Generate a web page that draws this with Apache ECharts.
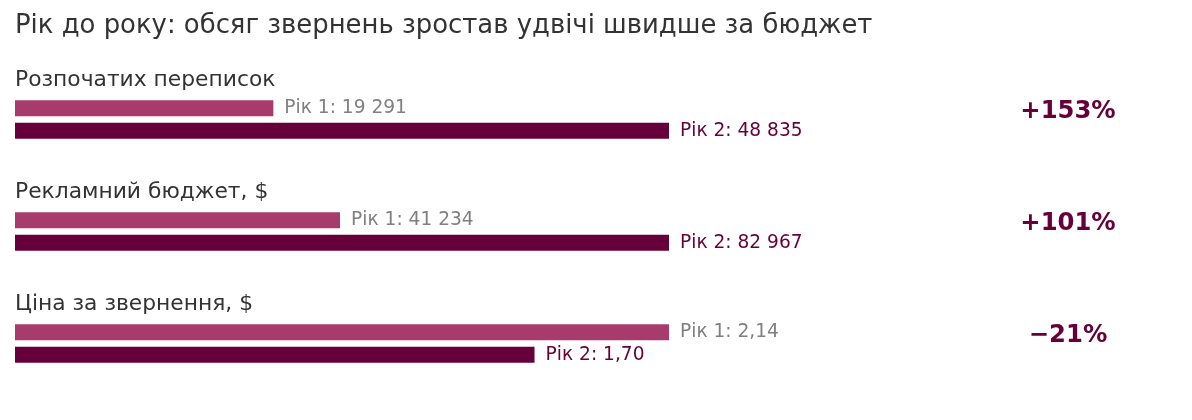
<!DOCTYPE html>
<html lang="uk">
<head>
  <meta charset="UTF-8">
  <title>Рік до року</title>
  <script src="https://cdn.jsdelivr.net/npm/echarts@6/dist/echarts.min.js"></script>
  <style>
    body{margin:0;background:#fff;}
  </style>
</head>
<body>
  <div id="main" style="width:1192px;height:420px;"></div>
  <script>
    // дані
    var metrics = ["Розпочатих переписок", "Рекламний бюджет, $", "Ціна за звернення, $"];
    var year1 = [19291, 41234, 2.14];
    var year2 = [48835, 82967, 1.70];
    var decimals = [0, 0, 2];
    var years = ["Рік 1", "Рік 2"];

    var FONT = "DejaVu Sans";
    var C1 = "#a63b6c", C2 = "#67003a";

    function fmt(v, d){
      var s = v.toFixed(d).split(".");
      var intPart = s[0].replace(/\B(?=(\d{3})+(?!\d))/g, " ");
      return d ? intPart + "," + s[1] : intPart;
    }

    var grids = [], xAxes = [], yAxes = [], series = [];
    var texts = [{
      type: "text", x: 15, y: 26,
      style: {text: "Рік до року: обсяг звернень зростав удвічі швидше за бюджет",
        font: "normal 25.9px '" + FONT + "'", fill: "#333", verticalAlign: "middle"}
    }];

    for (var i = 0; i < metrics.length; i++) {
      var mx = Math.max(year1[i], year2[i]);
      var gTop = 97 + 112 * i;   // не "top" — це window.top
      grids.push({left: 15, width: 654, top: gTop, height: 45});
      xAxes.push({gridIndex: i, type: "value", min: 0, max: 1, show: false});
      yAxes.push({gridIndex: i, type: "category", data: years, inverse: true, show: false});
      var labels = [
        years[0] + ": " + fmt(year1[i], decimals[i]),
        years[1] + ": " + fmt(year2[i], decimals[i])
      ];
      series.push({
        type: "bar", xAxisIndex: i, yAxisIndex: i, barWidth: 16, barGap: "0%",
        silent: true,
        data: [
          {value: year1[i] / mx, itemStyle: {color: C1},
           label: {show: true, position: "right", distance: 11, fontFamily: FONT, fontSize: 18.6,
                   color: "#808080", formatter: labels[0]}},
          {value: year2[i] / mx, itemStyle: {color: C2},
           label: {show: true, position: "right", distance: 11, fontFamily: FONT, fontSize: 18.6,
                   color: C2, formatter: labels[1]}}
        ]
      });

      texts.push({
        type: "text", x: 15, y: gTop - 17,
        style: {text: metrics[i], font: "normal 21.8px '" + FONT + "'", fill: "#333",
          verticalAlign: "middle"}
      });
      var pct = Math.round((year2[i] / year1[i] - 1) * 100);
      texts.push({
        type: "text", x: 1068, y: gTop + 15,
        style: {text: (pct >= 0 ? "+" : "\u2212") + Math.abs(pct) + "%",
          font: "bold 24.3px '" + FONT + "'", fill: C2, align: "center", verticalAlign: "middle"}
      });
    }

    var chart = echarts.init(document.getElementById("main"));
    chart.setOption({
      animation: false,
      grid: grids,
      xAxis: xAxes,
      yAxis: yAxes,
      series: series,
      graphic: texts
    });
  </script>
</body>
</html>
